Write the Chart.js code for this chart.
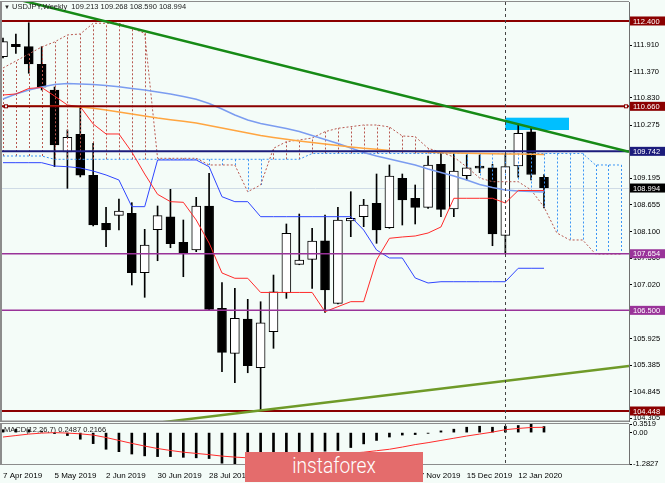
<!DOCTYPE html>
<html>
<head>
<meta charset="utf-8">
<script src="https://cdn.jsdelivr.net/npm/chart.js@4.4.1/dist/chart.umd.min.js"></script>
<style>
  html, body { margin: 0; padding: 0; background: #f4fcf8; }
  #wrap { position: relative; width: 665px; height: 483px; overflow: hidden; background: #f4fcf8;
          font-family: 'Liberation Sans', Arial, sans-serif; }
  canvas { position: absolute; left: 0; }
  #mainChart { top: 0; }
  #macdChart { top: 400px; }
  .title { position: absolute; left: 4px; top: 2px; font-size: 7.5px; line-height: 9px; color: #222; white-space: pre; }
  .title .tri { font-size: 6px; }
  .macd-title { position: absolute; left: 4px; top: 425px; font-size: 7.5px; line-height: 9px; color: #222; white-space: pre; }
  .wm { position: absolute; left: 245px; top: 452px; width: 178px; height: 30px; background: #e46c6c; text-align: center; }
  .wm span { display: inline-block; color: #fff; font-family: Roboto, 'Open Sans', sans-serif; font-weight: 300;
             font-size: 22px; line-height: 28px; transform: scaleX(0.87); }
</style>
</head>
<body>
<div id="wrap">
  <canvas id="mainChart" width="665" height="423"></canvas>
  <canvas id="macdChart" width="665" height="83"></canvas>
  <div class="title"><span class="tri">▼</span> USDJPY,Weekly  109.213 109.268 108.590 108.994</div>
  <div class="macd-title">MACD(12,26,7) 0.2487 0.2166</div>
  <div class="wm"><span>instaforex</span></div>
</div>
<script>
// weekly bars, index 0 = week of 7 Apr 2019
const dateLabels = ['7 Apr 2019', '5 May 2019', '2 Jun 2019', '30 Jun 2019', '28 Jul 2019', '25 Aug 2019',
  '22 Sep 2019', '20 Oct 2019', '17 Nov 2019', '15 Dec 2019', '12 Jan 2020'];
const dateTickIdx = [0, 4, 8, 12, 16, 20, 24, 28, 32, 36, 40];

const opens = [111.672, 111.925, 111.876, 111.517, 110.993, 109.729, 110.090, 109.254, 108.275, 108.438,
  108.479, 107.267, 108.144, 108.409, 107.887, 107.730, 108.628, 106.542, 105.624, 106.323,
  105.330, 106.064, 106.860, 107.439, 107.540, 107.920, 106.643, 108.322, 108.409, 108.683,
  108.185, 109.192, 108.785, 108.601, 109.478, 108.567, 109.245, 109.410, 109.408, 108.030,
  109.443, 110.140, 109.213];
const highs = [112.053, 112.135, 112.365, 111.876, 111.054, 110.177, 110.640, 109.906, 108.601, 108.770,
  108.695, 108.152, 108.628, 108.968, 108.342, 108.805, 109.294, 107.064, 106.949, 106.725,
  106.676, 107.220, 108.261, 108.464, 108.173, 108.444, 108.601, 108.919, 108.764, 109.280,
  109.464, 109.280, 109.056, 109.647, 109.702, 109.702, 109.668, 109.668, 109.478, 109.690,
  110.279, 110.220, 109.268];
const lows = [111.645, 111.741, 111.334, 110.993, 109.429, 108.988, 109.220, 108.220, 107.798, 108.138,
  107.017, 106.766, 107.512, 107.777, 107.186, 107.696, 106.493, 105.249, 105.024, 105.228,
  104.448, 105.726, 106.745, 107.430, 106.949, 106.460, 106.630, 108.002, 108.206, 107.867,
  108.173, 108.240, 108.261, 108.580, 108.409, 108.409, 109.158, 109.307, 107.818, 107.654,
  109.213, 109.160, 108.590];
const closes = [111.978, 111.876, 111.523, 111.048, 109.871, 110.029, 109.254, 108.240, 108.138, 108.526,
  107.267, 107.832, 108.430, 107.859, 107.663, 108.628, 106.521, 105.644, 106.338, 105.371,
  106.248, 106.880, 108.071, 107.526, 107.914, 106.915, 108.342, 108.376, 108.648, 108.138,
  109.239, 108.750, 108.601, 109.464, 108.560, 109.341, 109.408, 109.400, 108.057, 109.430,
  110.110, 109.270, 108.994];

// ichimoku
const tenkan = [110.891, 110.912, 111.024, 111.044, 110.871, 110.687, 110.653, 110.300, 110.096, 110.096,
  109.729, 109.280, 108.866, 108.716, 108.703, 108.342, 107.873, 107.262, 107.154, 107.154,
  106.865, 106.865, 106.865, 106.865, 106.865, 106.473, 106.575, 106.677, 106.677, 107.527,
  107.969, 107.996, 108.016, 108.077, 108.200, 108.785, 108.785, 108.785, 108.785, 108.689,
  108.944, 108.944, 108.944];
const kijun = [109.511, 109.511, 109.511, 109.511, 109.443, 109.429, 109.403, 109.341, 109.260, 109.158,
  108.614, 108.614, 109.566, 109.566, 109.566, 109.566, 109.429, 108.817, 108.716, 108.716,
  108.410, 108.410, 108.410, 108.410, 108.410, 108.410, 108.410, 108.410, 108.138, 107.731,
  107.568, 107.568, 107.160, 107.058, 107.084, 107.084, 107.084, 107.084, 107.084, 107.084,
  107.358, 107.358, 107.358];
const spanA = [109.647, 109.647, 109.647, 109.647, 109.580, 109.580, 109.580, 109.580, 109.580, 109.580,
  109.580, 109.580, 109.580, 109.580, 109.580, 109.580, 109.580, 109.580, 109.580, 109.580,
  109.580, 109.580, 109.580, 109.580, 109.698, 109.698, 109.698, 109.698, 109.698, 109.698,
  109.698, 109.698, 109.698, 109.698, 109.698, 109.698, 109.698, 109.698, 109.698, 109.698,
  109.698, 109.698, 109.698, 109.698, 109.698, 109.698, 109.464, 109.464, 109.464];
const spanB = [111.442, 111.584, 111.727, 111.870, 111.972, 112.115, 112.135, 112.353, 112.353, 112.353,
  112.251, 112.149, 109.600, 109.600, 109.600, 109.600, 109.464, 109.464, 109.464, 108.919,
  109.056, 109.804, 109.939, 109.974, 110.014, 110.143, 110.212, 110.245, 110.279, 110.279,
  110.239, 110.055, 110.041, 109.804, 109.723, 109.627, 109.423, 109.199, 109.123, 109.123,
  109.123, 108.954, 108.607, 108.077, 107.935, 107.935, 107.649, 107.649, 107.649];

// moving averages
const maFast = [110.810, 110.912, 110.993, 111.054, 111.105, 111.126, 111.115, 111.105, 111.085, 111.060,
  111.024, 110.993, 110.952, 110.912, 110.861, 110.803, 110.718, 110.606, 110.483, 110.381,
  110.310, 110.259, 110.208, 110.147, 110.065, 109.984, 109.902, 109.810, 109.719, 109.647,
  109.586, 109.525, 109.464, 109.382, 109.311, 109.240, 109.158, 109.066, 109.005, 108.954,
  108.934, 108.924, 108.913];
const maSlow = [110.667, 110.667, 110.667, 110.667, 110.667, 110.663, 110.646, 110.620, 110.585, 110.545,
  110.504, 110.463, 110.422, 110.387, 110.355, 110.320, 110.269, 110.218, 110.167, 110.116,
  110.065, 110.025, 109.988, 109.953, 109.923, 109.892, 109.861, 109.831, 109.804, 109.784,
  109.759, 109.749, 109.739, 109.729, 109.715, 109.709, 109.702, 109.698, 109.694, 109.688,
  109.688, 109.682, 109.678];

// MACD(12,26,7)
const macdMain = [0.12, 0.14, 0.12, 0.06, -0.04, -0.12, -0.27, -0.45, -0.68, -0.78,
  -0.875, -0.95, -0.98, -0.98, -1.01, -1.03, -1.06, -1.25, -1.2827, -1.20,
  -1.12, -1.05, -0.98, -0.93, -0.88, -0.76, -0.73, -0.61, -0.46, -0.32,
  -0.18, -0.10, -0.08, -0.03, 0.07, 0.14, 0.22, 0.26, 0.22, 0.26,
  0.29, 0.3519, 0.2487];
const macdSignal = [-0.18, -0.12, -0.06, -0.02, 0.00, -0.02, -0.05, -0.10, -0.20, -0.32,
  -0.44, -0.55, -0.65, -0.73, -0.80, -0.85, -0.90, -0.96, -1.00, -1.03,
  -1.05, -1.05, -1.03, -1.00, -0.96, -0.92, -0.88, -0.84, -0.80, -0.74,
  -0.68, -0.59, -0.49, -0.41, -0.32, -0.23, -0.14, -0.06, 0.02, 0.12,
  0.17, 0.21, 0.2166];

// axis ticks
const priceTicks = [111.910, 111.370, 110.830, 110.275, 109.195, 108.655, 108.100, 107.560, 107.020,
  105.925, 105.385, 104.845, 104.305];
const macdTicks = [0.3519, 0, -1.2827];
const macdTickLabels = ['0.3519', '0.00', '-1.2827'];

// drawn objects
const levelPrices = [112.400, 110.660, 109.742, 107.654, 106.500, 104.448];
const levelColors = ['#8b0000', '#8b0000', '#1c1c7c', '#993399', '#993399', '#8b0000'];
const lastPrice = 108.994;
const trendDown = [[-0.5, 112.946], [48.6, 109.735]];
const trendUp = [[10, 104.143], [48.6, 105.366]];
const zoneIdx = [39, 43.94];
const zonePrice = [110.177, 110.428];
const markerIdx = 39;

const xMin = -0.0776, xMax = 48.599;
const yMin = 104.244, yMax = 112.787;
const axisFont = { family: "'Liberation Sans', Arial, sans-serif", size: 7.5 };

const xy = arr => arr.map((v, i) => ({ x: i, y: v }));
const bodyFill = closes.map((c, i) => c >= opens[i] ? '#ffffff' : '#000000');

function clipArea(ctx, a) {
  ctx.beginPath();
  ctx.rect(a.left, a.top, a.right - a.left, a.bottom - a.top);
  ctx.clip();
}

function drawMarker(chart) {
  const { ctx, chartArea: a, scales: { x } } = chart;
  const px = Math.round(x.getPixelForValue(markerIdx)) + 0.5;
  ctx.save();
  ctx.strokeStyle = '#444';
  ctx.lineWidth = 1;
  ctx.setLineDash([3, 3]);
  ctx.beginPath();
  ctx.moveTo(px, a.top);
  ctx.lineTo(px, a.bottom);
  ctx.stroke();
  ctx.restore();
}

const mainOverlay = {
  id: 'mainOverlay',
  beforeDatasetsDraw(chart) {
    const { ctx, chartArea: a, scales: { x, y } } = chart;
    ctx.save();
    clipArea(ctx, a);
    // zone rectangle
    const x1 = x.getPixelForValue(zoneIdx[0]), x2 = x.getPixelForValue(zoneIdx[1]);
    const y1 = y.getPixelForValue(zonePrice[1]), y2 = y.getPixelForValue(zonePrice[0]);
    ctx.fillStyle = '#00bfff';
    ctx.fillRect(x1, y1, x2 - x1, y2 - y1);
    // bid line
    const by = Math.round(y.getPixelForValue(lastPrice)) + 0.5;
    ctx.strokeStyle = '#cfdbe6';
    ctx.lineWidth = 1;
    ctx.beginPath();
    ctx.moveTo(a.left, by);
    ctx.lineTo(a.right, by);
    ctx.stroke();
    ctx.restore();
  },
  afterDatasetDraw(chart, args) {
    if (args.index !== 1) return;
    // cloud hatching right after candle bodies
    const { ctx, chartArea: a, scales: { x, y } } = chart;
    ctx.save();
    clipArea(ctx, a);
    ctx.lineWidth = 1;
    ctx.setLineDash([2, 2]);
    spanA.forEach((va, i) => {
      const vb = spanB[i];
      const px = Math.round(x.getPixelForValue(i)) + 0.5;
      ctx.strokeStyle = vb > va ? '#b8574f' : '#3b95f5';
      ctx.beginPath();
      ctx.moveTo(px, y.getPixelForValue(va));
      ctx.lineTo(px, y.getPixelForValue(vb));
      ctx.stroke();
    });
    ctx.restore();
  },
  afterDatasetsDraw(chart) {
    const { ctx, chartArea: a, scales: { x, y } } = chart;
    ctx.save();
    clipArea(ctx, a);
    levelPrices.forEach((v, i) => {
      const py = y.getPixelForValue(v);
      ctx.strokeStyle = levelColors[i];
      ctx.lineWidth = i === 3 || i === 4 ? 1.5 : 2;
      ctx.beginPath();
      ctx.moveTo(a.left, py);
      ctx.lineTo(a.right, py);
      ctx.stroke();
    });
    // anchors of the 110.660 line
    const ay = y.getPixelForValue(levelPrices[1]);
    ctx.strokeStyle = '#8b0000';
    ctx.fillStyle = '#f4fcf8';
    ctx.lineWidth = 1;
    [a.left + 2, a.right - 5].forEach(px => {
      ctx.fillRect(px, ay - 2, 4, 4);
      ctx.strokeRect(px + 0.5, ay - 1.5, 3, 3);
    });
    const line = (pts, color) => {
      ctx.strokeStyle = color;
      ctx.lineWidth = 2.5;
      ctx.beginPath();
      ctx.moveTo(x.getPixelForValue(pts[0][0]), y.getPixelForValue(pts[0][1]));
      ctx.lineTo(x.getPixelForValue(pts[1][0]), y.getPixelForValue(pts[1][1]));
      ctx.stroke();
    };
    line(trendDown, '#168a16');
    line(trendUp, '#6f9a28');
    ctx.restore();
    drawMarker(chart);
  },
  afterDraw(chart) {
    const { ctx, chartArea: a, scales: { y } } = chart;
    ctx.save();
    // frame
    ctx.fillStyle = '#8c8c8c';
    ctx.fillRect(0, a.top, 2, a.bottom - a.top);
    ctx.fillRect(0, 1, a.right, 1);
    ctx.fillRect(0, a.bottom - 0.5, a.right, 1.5);
    // price tags
    const tags = levelPrices.map((v, i) => [v, levelColors[i]]);
    tags.push([lastPrice, '#000000']);
    ctx.font = "7.5px 'Liberation Sans', Arial, sans-serif";
    ctx.textBaseline = 'middle';
    tags.forEach(([v, bg]) => {
      const py = y.getPixelForValue(v);
      ctx.fillStyle = bg;
      ctx.fillRect(a.right + 1, py - 4.5, 35, 9);
      ctx.fillStyle = '#ffffff';
      ctx.fillText(v.toFixed(3), a.right + 4, py + 0.5);
    });
    ctx.restore();
  }
};

const macdOverlay = {
  id: 'macdOverlay',
  afterDatasetsDraw(chart) { drawMarker(chart); },
  afterDraw(chart) {
    const { ctx, chartArea: a } = chart;
    ctx.save();
    ctx.fillStyle = '#8c8c8c';
    ctx.fillRect(0, a.top - 1, 2, a.bottom - a.top + 1);
    ctx.fillRect(0, a.top - 1, a.right, 1);
    ctx.fillRect(0, a.bottom, a.right, 1);
    ctx.restore();
  }
};

const lineDs = (data, color, order, extra) => Object.assign({
  type: 'line', data: xy(data), borderColor: color, borderWidth: 1, pointRadius: 0,
  tension: 0, fill: false, order: order, clip: 0
}, extra || {});

new Chart(document.getElementById('mainChart'), {
  type: 'bar',
  data: {
    datasets: [
      { type: 'bar', data: opens.map((o, i) => ({ x: i, y: [lows[i], highs[i]] })),
        backgroundColor: '#000', borderWidth: 0, barThickness: 1, grouped: false, order: 20, clip: 0 },
      { type: 'bar', data: opens.map((o, i) => ({ x: i, y: [o, closes[i]] })),
        backgroundColor: bodyFill, borderColor: '#000', borderWidth: 1, borderSkipped: false,
        barThickness: 9, minBarLength: 2, grouped: false, order: 19, clip: 0 },
      lineDs(spanA, '#3b95f5', 10, { borderDash: [2, 2] }),
      lineDs(spanB, '#b8574f', 10, { borderDash: [2, 2] }),
      lineDs(maFast, '#7b9cf0', 9, { borderWidth: 1.5 }),
      lineDs(maSlow, '#ffa540', 8, { borderWidth: 1.5 }),
      lineDs(kijun, '#2f45ff', 7),
      lineDs(tenkan, '#ff2a2a', 6)
    ]
  },
  options: {
    responsive: false, animation: false, devicePixelRatio: 1, events: [],
    layout: { padding: { left: 2, top: 2, right: 0, bottom: 2 } },
    plugins: { legend: { display: false }, tooltip: { enabled: false } },
    scales: {
      x: { type: 'linear', min: xMin, max: xMax, offset: false, display: false },
      y: {
        type: 'linear', position: 'right', min: yMin, max: yMax,
        afterBuildTicks: s => { s.ticks = priceTicks.map(v => ({ value: v })); },
        afterFit: s => { s.width = 36; s.paddingTop = 0; s.paddingBottom = 0; },
        ticks: { autoSkip: false, padding: 1, color: '#000', font: axisFont, callback: v => v.toFixed(3) },
        grid: { drawOnChartArea: false, drawTicks: true, tickLength: 3, color: '#000' },
        border: { display: true, color: '#707070', width: 1 }
      }
    }
  },
  plugins: [mainOverlay]
});

new Chart(document.getElementById('macdChart'), {
  type: 'bar',
  data: {
    datasets: [
      { type: 'bar', data: xy(macdMain), backgroundColor: '#000', borderWidth: 0,
        barThickness: 2, grouped: false, order: 5, clip: 0 },
      lineDs(macdSignal, '#ff2a2a', 1)
    ]
  },
  options: {
    responsive: false, animation: false, devicePixelRatio: 1, events: [],
    layout: { padding: { left: 2, top: 24, right: 0, bottom: 0 } },
    plugins: { legend: { display: false }, tooltip: { enabled: false } },
    scales: {
      x: {
        type: 'linear', min: xMin, max: xMax, offset: false, position: 'bottom',
        afterBuildTicks: s => { s.ticks = dateTickIdx.map(v => ({ value: v })); },
        afterFit: s => { s.height = 19; s.paddingLeft = 0; s.paddingRight = 0; },
        ticks: { autoSkip: false, maxRotation: 0, align: 'start', padding: 7, color: '#000',
                 font: { family: axisFont.family, size: 8 },
                 callback: v => dateLabels[dateTickIdx.indexOf(v)] },
        grid: { drawOnChartArea: false, drawTicks: false },
        border: { display: false }
      },
      y: {
        type: 'linear', position: 'right', min: -1.2827, max: 0.3519,
        afterBuildTicks: s => { s.ticks = macdTicks.map(v => ({ value: v })); },
        afterFit: s => { s.width = 36; s.paddingTop = 0; s.paddingBottom = 0; },
        ticks: { autoSkip: false, padding: 1, color: '#000', font: axisFont,
                 callback: v => macdTickLabels[macdTicks.indexOf(v)] },
        grid: { drawOnChartArea: false, drawTicks: true, tickLength: 3, color: '#000' },
        border: { display: true, color: '#707070', width: 1 }
      }
    }
  },
  plugins: [macdOverlay]
});
</script>
</body>
</html>
